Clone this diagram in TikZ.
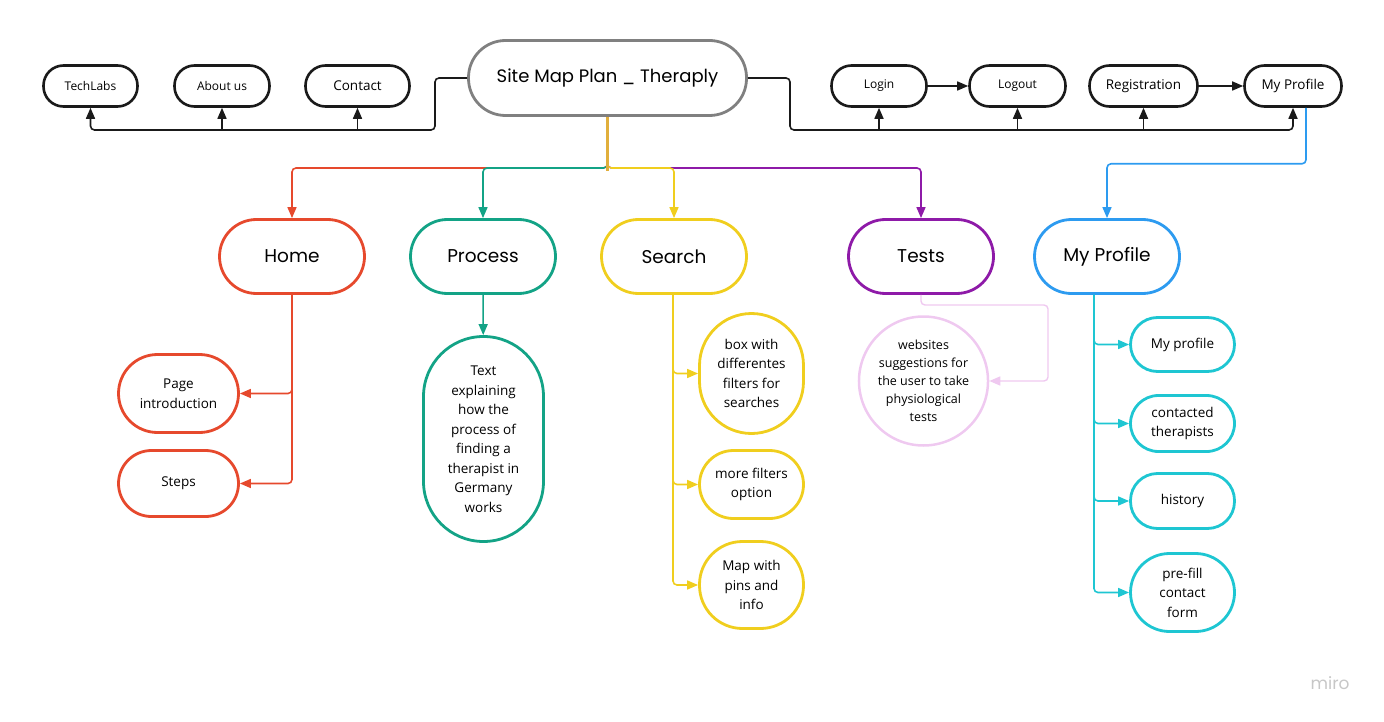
\documentclass[tikz,border=0pt]{standalone}
\usepackage{fontspec}
\setmainfont{Open Sans}
\newfontfamily\headfamily{Poppins}
\usetikzlibrary{arrows.meta,shapes.geometric}

\definecolor{ink}{RGB}{26,26,26}
\definecolor{titlegray}{RGB}{128,128,128}
\definecolor{homered}{RGB}{230,73,45}
\definecolor{procteal}{RGB}{19,163,134}
\definecolor{searchgold}{RGB}{240,206,30}
\definecolor{testpurple}{RGB}{142,26,168}
\definecolor{profblue}{RGB}{45,155,240}
\definecolor{profcyan}{RGB}{30,198,210}
\definecolor{testpink}{RGB}{239,201,240}
\definecolor{stemgold}{RGB}{225,175,60}

\tikzset{
  topnode/.style={draw=ink, line width=2.6pt, rounded corners=20pt, minimum height=41pt,
    inner sep=0pt, font=\fontsize{12}{14}\selectfont},
  mainnode/.style={line width=2.8pt, rounded corners=37pt, minimum width=145pt,
    minimum height=74pt, inner sep=0pt, font=\headfamily\fontsize{18.5}{21}\selectfont},
  leaf/.style={line width=2.8pt, rounded corners=#1, align=center, inner sep=0pt,
    font=\fontsize{13.5}{19.5}\selectfont},
  link/.style={line width=1.6pt, rounded corners=4pt, -{Triangle[length=11pt,width=9pt]}},
}

\begin{document}
\begin{tikzpicture}[x=1pt,y=-1pt]
\useasboundingbox (0,0) rectangle (1384,722);

\node[draw=titlegray, line width=2.8pt, rounded corners=37pt, minimum width=278pt, minimum height=75pt,
  font=\headfamily\fontsize{18}{20}\selectfont] (title) at (607.5,78) {Site Map Plan \_ Theraply};

\node[topnode, minimum width=94pt] (techlabs) at (90.5,86) {TechLabs};
\node[topnode, minimum width=95pt] (about) at (222,86) {About us};
\node[topnode, minimum width=104pt, font=\fontsize{13.5}{15}\selectfont] (contact) at (357.5,86) {Contact};
\node[topnode, minimum width=95pt] (login) at (879,86) {Login};
\node[topnode, minimum width=96pt] (logout) at (1017.5,86) {Logout};
\node[topnode, minimum width=108pt, font=\fontsize{13.5}{15}\selectfont] (registration) at (1143.5,86) {Registration};
\node[topnode, minimum width=97pt, font=\fontsize{13.5}{15}\selectfont] (topprofile) at (1293,86) {My Profile};

\coordinate (lbus) at (435,130);
\coordinate (rbus) at (790,130);
\draw[link, draw=ink] (title.west) -- (title.west -| lbus) -- (lbus) -| (techlabs.south);
\draw[link, draw=ink] (about.south |- lbus) -- (about.south);
\draw[link, draw=ink] (contact.south |- lbus) -- (contact.south);
\draw[link, draw=ink] (title.east) -- (title.east -| rbus) -- (rbus) -| (topprofile.south);
\draw[link, draw=ink] (login.south |- rbus) -- (login.south);
\draw[link, draw=ink] (logout.south |- rbus) -- (logout.south);
\draw[link, draw=ink] (registration.south |- rbus) -- (registration.south);
\draw[link, draw=ink] (login) -- (logout);
\draw[link, draw=ink] (registration) -- (topprofile);

\node[mainnode, draw=homered] (home) at (292,256.5) {Home};
\node[mainnode, draw=procteal] (process) at (483,256.5) {Process};
\node[mainnode, draw=searchgold] (search) at (674,256.5) {Search};
\node[mainnode, draw=testpurple] (tests) at (921,256.5) {Tests};
\node[mainnode, draw=profblue] (mainprofile) at (1107,256.5) {My Profile};

\coordinate (hub) at (607.5,168);
\draw[link, draw=testpurple] (title.south) -- (hub) -| (tests.north);
\draw[link, draw=searchgold] (title.south) -- (hub) -| (search.north);
\draw[link, draw=homered] (title.south) -- (hub) -| (home.north);
\draw[link, draw=procteal] (title.south) -- (hub) -| (process.north);
\draw[line width=2.4pt, draw=stemgold] (title.south) -- ([yshift=-3pt]hub);
\draw[link, draw=profblue] ([xshift=13pt]topprofile.south) -- ++(0,56) -| (mainprofile.north);

\node[leaf=39pt, draw=homered, minimum width=120pt, minimum height=78pt] (pageintro) at (178.5,393.5) {Page\\introduction};
\node[leaf=33pt, draw=homered, minimum width=120pt, minimum height=66pt] (steps) at (178.5,483.5) {Steps};
\draw[link, draw=homered] (home.south) |- (pageintro.east);
\draw[link, draw=homered] (home.south) |- (steps.east);

\node[leaf=60pt, draw=procteal, minimum width=120pt, minimum height=205pt] (explain) at (483.5,439)
  {Text\\explaining\\how the\\process of\\finding a\\therapist in\\Germany\\works};
\draw[link, draw=procteal] (process) -- (explain);

\node[leaf=52pt, draw=searchgold, minimum width=104pt, minimum height=120pt] (filterbox) at (751.5,373.5) {box with\\differentes\\filters for\\searches};
\node[leaf=34pt, draw=searchgold, minimum width=104pt, minimum height=68pt] (morefilters) at (751.5,484.5) {more filters\\option};
\node[leaf=43pt, draw=searchgold, minimum width=104pt, minimum height=87pt] (pinmap) at (751.5,585) {Map with\\pins and\\info};
\draw[link, draw=searchgold] ([xshift=-1pt]search.south) |- (filterbox.west);
\draw[link, draw=searchgold] ([xshift=-1pt]search.south) |- (morefilters.west);
\draw[link, draw=searchgold] ([xshift=-1pt]search.south) |- (pinmap.west);

\node[ellipse, draw=testpink, line width=2.5pt, minimum width=120pt, minimum height=129pt, inner sep=0pt,
  align=center, font=\fontsize{12.5}{18}\selectfont] (websites) at (923.5,381)
  {websites\\suggestions for\\the user to take\\physiological\\tests};
\coordinate (tbend) at (1048,305);
\draw[link, draw=testpink, line width=1.4pt] (tests.south) |- (tbend) |- (websites.east);

\node[leaf=27pt, draw=profcyan, minimum width=104pt, minimum height=54pt] (myprofile) at (1182.5,344.5) {My profile};
\node[leaf=28pt, draw=profcyan, minimum width=104pt, minimum height=56pt] (contacted) at (1182.5,423.5) {contacted\\therapists};
\node[leaf=27pt, draw=profcyan, minimum width=104pt, minimum height=55pt] (history) at (1182.5,501) {history};
\node[leaf=39pt, draw=profcyan, minimum width=104pt, minimum height=78pt] (prefill) at (1182.5,592.5) {pre-fill\\contact\\form};
\draw[link, draw=profcyan] ([xshift=-13pt]mainprofile.south) |- (myprofile.west);
\draw[link, draw=profcyan] ([xshift=-13pt]mainprofile.south) |- (contacted.west);
\draw[link, draw=profcyan] ([xshift=-13pt]mainprofile.south) |- (history.west);
\draw[link, draw=profcyan] ([xshift=-13pt]mainprofile.south) |- (prefill.west);

\node[text=black!22, font=\headfamily\fontsize{17}{20}\selectfont] (miro) at (1330,683) {miro};
\end{tikzpicture}
\end{document}
